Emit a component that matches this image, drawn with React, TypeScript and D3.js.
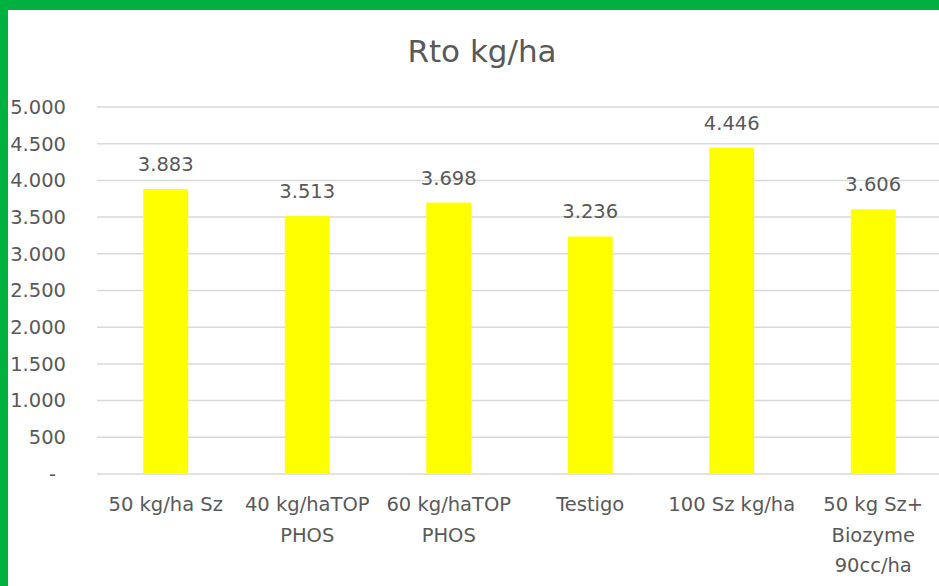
import React from "react";
import * as d3 from "d3";

const categories: string[][] = [
  ["50 kg/ha Sz"],
  ["40 kg/haTOP", "PHOS"],
  ["60 kg/haTOP", "PHOS"],
  ["Testigo"],
  ["100 Sz kg/ha"],
  ["50 kg Sz+", "Biozyme", "90cc/ha"],
];
const values: number[] = [3883, 3513, 3698, 3236, 4446, 3606];
const yTicks: number[] = [0, 500, 1000, 1500, 2000, 2500, 3000, 3500, 4000, 4500, 5000];
const title = "Rto kg/ha";

const W = 939;
const H = 586;
const FONT = "'DejaVu Sans', sans-serif";
const TXT = "#595959";
const FS = 19.5;

const fmt = (v: number) => (v === 0 ? "-" : d3.format(",")(v).replace(/,/g, "."));

export default function App() {
  const x = d3
    .scaleBand<number>()
    .domain(values.map((_, i) => i))
    .range([95, 944])
    .paddingInner(0.683)
    .paddingOuter(0.683 / 2);
  const y = d3.scaleLinear().domain([0, 5000]).range([474, 107]);

  return (
    <svg
      width={W}
      height={H}
      style={{ position: "absolute", left: 0, top: 0, background: "#fff" }}
      fontFamily={FONT}
    >
      <rect x={0} y={0} width={W} height={H} fill="#fff" />
      {yTicks.map((t) => (
        <g key={t}>
          <line x1={97} x2={W} y1={y(t)} y2={y(t)} stroke="#d9d9d9" strokeWidth={1.5} />
          <text
            x={t === 0 ? 56 : 66}
            y={y(t)}
            dy="0.35em"
            textAnchor="end"
            fontSize={FS}
            fill={TXT}
          >
            {fmt(t)}
          </text>
        </g>
      ))}
      {values.map((v, i) => (
        <g key={i}>
          <rect
            x={x(i)!}
            y={y(v)}
            width={x.bandwidth()}
            height={y(0) - y(v)}
            fill="#ffff00"
          />
          <text
            x={x(i)! + x.bandwidth() / 2}
            y={y(v) - 18}
            textAnchor="middle"
            fontSize={FS}
            fill={TXT}
          >
            {fmt(v)}
          </text>
          {categories[i].map((line, j) => (
            <text
              key={j}
              x={x(i)! + x.bandwidth() / 2}
              y={511 + j * 30.5}
              textAnchor="middle"
              fontSize={FS}
              fill={TXT}
            >
              {line}
            </text>
          ))}
        </g>
      ))}
      <text x={482} y={62} textAnchor="middle" fontSize={31} fill={TXT}>
        {title}
      </text>
      <rect x={0} y={0} width={W} height={10} fill="#00b140" />
      <rect x={0} y={0} width={8} height={H} fill="#00b140" />
    </svg>
  );
}
